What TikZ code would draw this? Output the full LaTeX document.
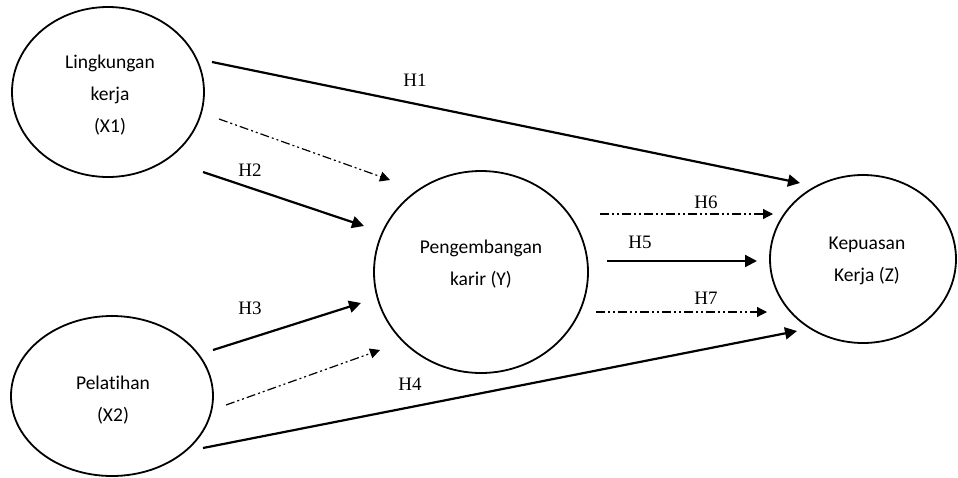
\documentclass[tikz,border=0pt]{standalone}
\usepackage{fontspec}
\setmainfont{Liberation Serif}
\newfontfamily\calibri[Ligatures=NoCommon]{Carlito}
\usepackage{tikz}
\usetikzlibrary{shapes,arrows.meta,positioning}
\tikzstyle{construct} = [ellipse, draw=black, line width=1.8pt, fill=none, inner sep=0pt]
\tikzstyle{textonly} = [draw=none, fill=none, text centered, align=center, font=\calibri\fontsize{19.5}{32}\selectfont]
\tikzstyle{hyp} = [draw=none, fill=none, text centered, font=\fontsize{19}{22}\selectfont]
\tikzstyle{tedge}  = [draw, line width=2.2pt, -{Triangle[length=12pt, width=12pt]}]
\tikzstyle{dedge}  = [draw, line width=1.2pt, dash pattern=on 9pt off 3pt on 2pt off 3pt on 2pt off 3pt, -{Triangle[length=10pt, width=10pt]}]

\begin{document}
\begin{tikzpicture}[x=1pt, y=-1pt]
\useasboundingbox (0,0) rectangle (958,477);
%constructs
\node[construct, minimum width=192pt, minimum height=170pt] (x1) at (108,92) {};
\node[construct, minimum width=202pt, minimum height=160pt] (x2) at (112,396) {};
\node[construct, minimum width=214pt, minimum height=202pt] (y) at (481,272) {};
\node[construct, minimum width=186pt, minimum height=168pt] (z) at (863,259) {};

\node[textonly] (x1text) at (110,95) {Lingkungan\\kerja\\(X1)};
\node[textonly] (x2text) at (113,400) {Pelatihan\\(X2)};
\node[textonly] (ytext) at (481,264) {Pengembangan\\karir (Y)};
\node[textonly] (ztext) at (867,261) {Kepuasan\\Kerja (Z)};

%labels
\node[hyp] (h1) at (415,80) {H1};
\node[hyp] (h2) at (250,170) {H2};
\node[hyp] (h3) at (250,308) {H3};
\node[hyp] (h4) at (410,384) {H4};
\node[hyp] (h5) at (640,242) {H5};
\node[hyp] (h6) at (706,202) {H6};
\node[hyp] (h7) at (706,298) {H7};

%end points
\coordinate (h1s) at (212,62);   \coordinate (h1e) at (800,183);
\coordinate (d1s) at (219,119);  \coordinate (d1e) at (390,180);
\coordinate (h2s) at (203,172);  \coordinate (h2e) at (364,226);
\coordinate (h3s) at (213,350);  \coordinate (h3e) at (361,303);
\coordinate (d2s) at (226,405);  \coordinate (d2e) at (380,350);
\coordinate (h4s) at (203,448);  \coordinate (h4e) at (797,331);
\coordinate (h6s) at (600,214);  \coordinate (h6e) at (773,214);
\coordinate (h5s) at (607,261);  \coordinate (h5e) at (757,261);
\coordinate (h7s) at (596,312);  \coordinate (h7e) at (767,312);

%paths
\path[tedge] (h1s) -- (h1e);
\path[dedge] (d1s) -- (d1e);
\path[tedge] (h2s) -- (h2e);
\path[tedge] (h3s) -- (h3e);
\path[dedge] (d2s) -- (d2e);
\path[tedge] (h4s) -- (h4e);

\path[dedge] (h6s) -- (h6e);
\path[tedge] (h5s) -- (h5e);
\path[dedge] (h7s) -- (h7e);

\end{tikzpicture}
\end{document}
